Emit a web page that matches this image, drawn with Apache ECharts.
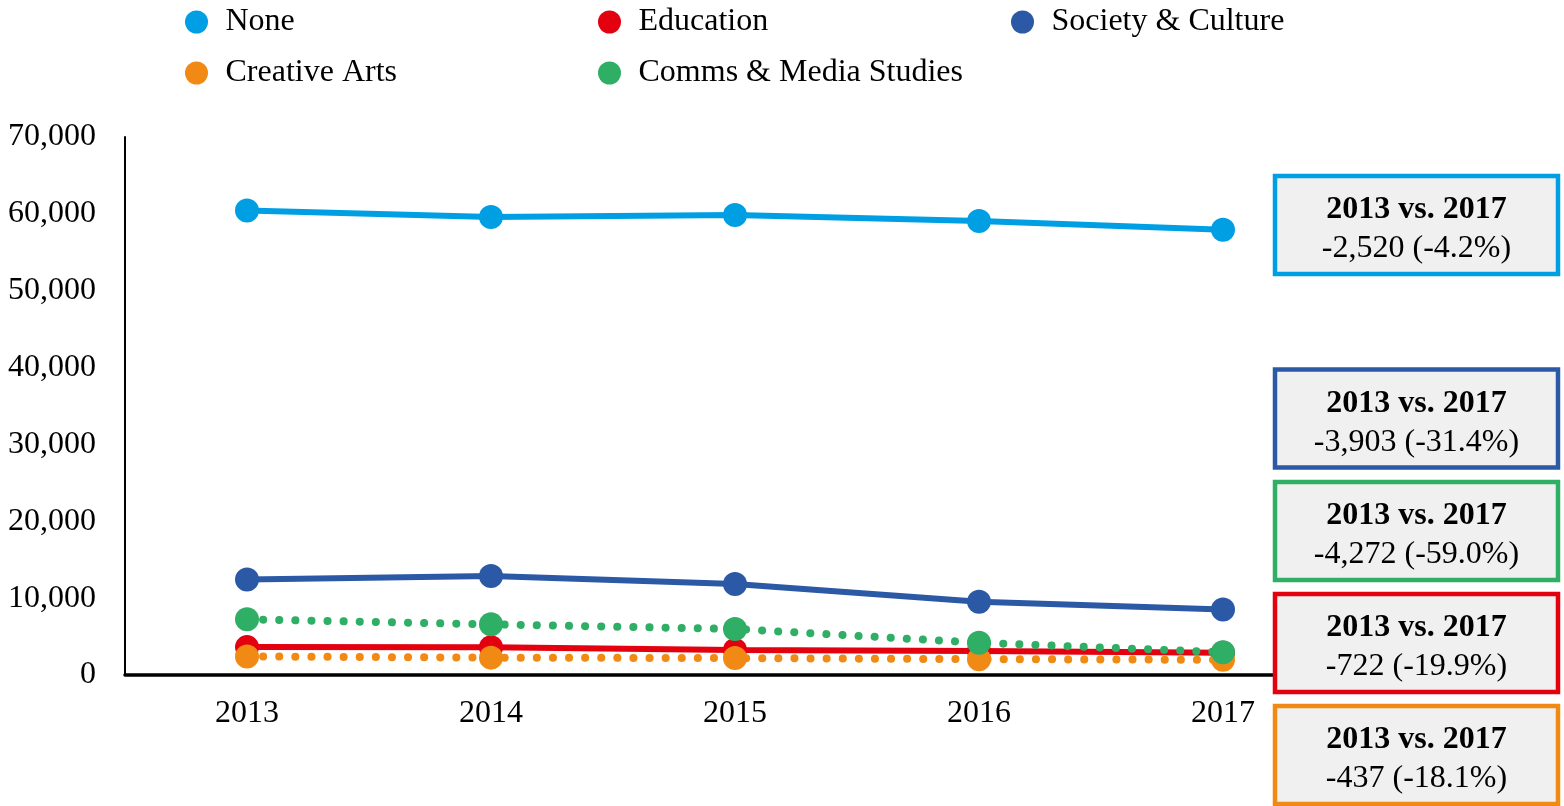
<!DOCTYPE html>
<html>
<head>
<meta charset="utf-8">
<script src="https://cdn.jsdelivr.net/npm/echarts@6/dist/echarts.min.js"></script>
<style>
  html, body { margin: 0; padding: 0; background: #ffffff; }
  #chart { width: 1564px; height: 806px; }
</style>
</head>
<body>
<div id="chart"></div>
<script>
// Enrolments by field of study, 2013-2017
const years = ['2013', '2014', '2015', '2016', '2017'];
const noneValues = [60450, 59590, 59850, 59070, 57930];
const educationValues = [3628, 3620, 3260, 3120, 2906];
const societyValues = [12430, 12880, 11840, 9540, 8527];
const creativeArtsValues = [2414, 2260, 2200, 2060, 1977];
const commsMediaValues = [7241, 6590, 5990, 4200, 2969];
const yTicks = [0, 10000, 20000, 30000, 40000, 50000, 60000, 70000];

const FONT = '"Liberation Serif", "Times New Roman", serif';
const FS = 32;

const seriesDefs = [
  { name: 'None', data: noneValues, color: '#009fe3', dotted: false },
  { name: 'Education', data: educationValues, color: '#e3000f', dotted: false },
  { name: 'Society & Culture', data: societyValues, color: '#2b59a5', dotted: false },
  { name: 'Creative Arts', data: creativeArtsValues, color: '#f18a15', dotted: true },
  { name: 'Comms & Media Studies', data: commsMediaValues, color: '#2fae66', dotted: true }
];

// legend slots: [left of icon box, vertical centre]
const legendSlots = {
  'None': [185, 22],
  'Education': [598, 22],
  'Society & Culture': [1011, 22],
  'Creative Arts': [185, 73],
  'Comms & Media Studies': [598, 73]
};

// change boxes, top edge of each box
const boxTops = {
  'None': 176,
  'Society & Culture': 369.5,
  'Comms & Media Studies': 482,
  'Education': 594,
  'Creative Arts': 706
};

function fmt(n) {
  return Math.abs(n).toLocaleString('en-US');
}

function changeText(values) {
  const first = values[0];
  const last = values[values.length - 1];
  const diff = last - first;
  const pct = diff / first * 100;
  const sign = diff < 0 ? '-' : '';
  return sign + fmt(diff) + ' (' + sign + Math.abs(pct).toFixed(1) + '%)';
}

const chart = echarts.init(document.getElementById('chart'), null, { renderer: 'canvas' });

const legends = seriesDefs.map(s => {
  const slot = legendSlots[s.name];
  return {
    data: [s.name],
    left: slot[0],
    top: slot[1] - FS / 2,
    padding: 0,
    icon: 'circle',
    itemWidth: 48,
    itemHeight: 23,
    selectedMode: false,
    textStyle: { fontFamily: FONT, fontSize: FS, color: '#000', lineHeight: FS }
  };
});

const series = seriesDefs.map(s => ({
  name: s.name,
  type: 'line',
  data: s.data,
  symbol: 'circle',
  symbolSize: 24,
  showSymbol: true,
  itemStyle: { color: s.color },
  lineStyle: s.dotted
    ? { color: s.color, width: 8, type: [0.1, 16], cap: 'round' }
    : { color: s.color, width: 6 },
  emphasis: { disabled: true },
  z: 2
}));

const graphics = [];
const BOX_X = 1275, BOX_W = 283, BOX_H = 98;
seriesDefs.forEach(s => {
  const top = boxTops[s.name];
  graphics.push({
    type: 'rect',
    shape: { x: BOX_X, y: top, width: BOX_W, height: BOX_H },
    style: { fill: '#f0f0f0', stroke: s.color, lineWidth: 4.5 },
    z: 100
  });
  graphics.push({
    type: 'text',
    x: BOX_X + BOX_W / 2,
    y: top + 34,
    style: {
      text: years[0] + ' vs. ' + years[years.length - 1],
      fontFamily: FONT, fontSize: FS, fontWeight: 'bold', fill: '#000',
      align: 'center', verticalAlign: 'middle'
    },
    z: 101
  });
  graphics.push({
    type: 'text',
    x: BOX_X + BOX_W / 2,
    y: top + 73,
    style: {
      text: changeText(s.data),
      fontFamily: FONT, fontSize: FS, fill: '#000',
      align: 'center', verticalAlign: 'middle'
    },
    z: 101
  });
});

const option = {
  animation: false,
  backgroundColor: '#ffffff',
  legend: legends,
  grid: { left: 125, right: 219, top: 137, bottom: 131, containLabel: false },
  xAxis: {
    type: 'category',
    data: years,
    boundaryGap: true,
    axisLine: { show: true, lineStyle: { color: '#000', width: 3.5 } },
    axisTick: { show: false },
    axisLabel: { fontFamily: FONT, fontSize: FS, color: '#000', margin: 23 },
    splitLine: { show: false },
    z: 1
  },
  yAxis: {
    type: 'value',
    min: yTicks[0],
    max: yTicks[yTicks.length - 1],
    interval: yTicks[1] - yTicks[0],
    axisLine: { show: true, lineStyle: { color: '#000', width: 2 } },
    axisTick: { show: false },
    splitLine: { show: false },
    axisLabel: {
      fontFamily: FONT, fontSize: FS, color: '#000', margin: 29,
      padding: [4, 0, 0, 0],
      formatter: v => v.toLocaleString('en-US')
    }
  },
  series: series,
  graphic: graphics
};

chart.setOption(option);
</script>
</body>
</html>
